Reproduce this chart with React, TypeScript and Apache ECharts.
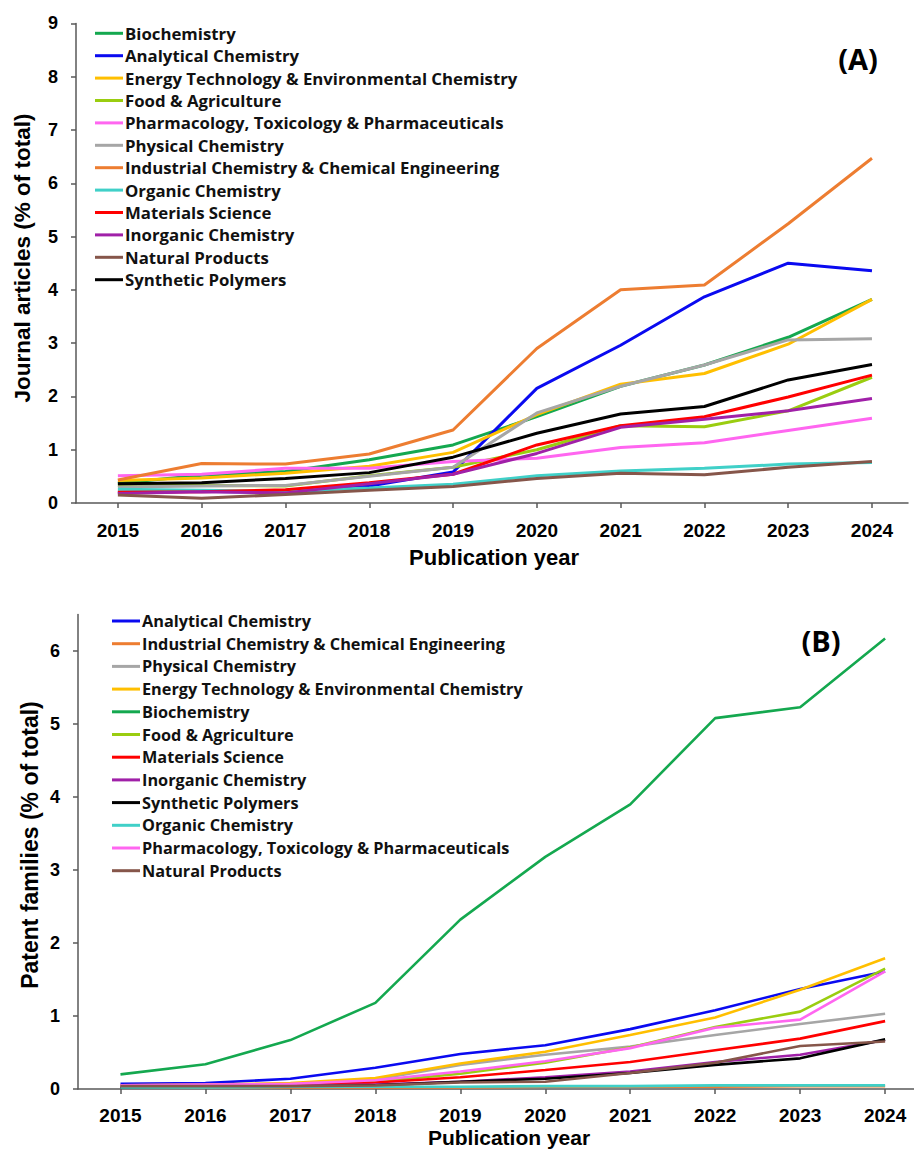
import React, { useEffect, useRef } from "react";
import * as echarts from "echarts";

const years = [2015, 2016, 2017, 2018, 2019, 2020, 2021, 2022, 2023, 2024];
const yTicksA = [0, 1, 2, 3, 4, 5, 6, 7, 8, 9];
const yTicksB = [0, 1, 2, 3, 4, 5, 6];

const colors: Record<string, string> = {
  "Biochemistry": "#14a84f",
  "Analytical Chemistry": "#0a0af0",
  "Energy Technology & Environmental Chemistry": "#ffbf00",
  "Food & Agriculture": "#9acd10",
  "Pharmacology, Toxicology & Pharmaceuticals": "#ff66f0",
  "Physical Chemistry": "#a6a6a6",
  "Industrial Chemistry & Chemical Engineering": "#ed7d31",
  "Organic Chemistry": "#40d0c8",
  "Materials Science": "#ff0000",
  "Inorganic Chemistry": "#a020a8",
  "Natural Products": "#86564a",
  "Synthetic Polymers": "#000000",
};

// Panel A: journal articles (% of total)
const orderA = [
  "Biochemistry",
  "Analytical Chemistry",
  "Energy Technology & Environmental Chemistry",
  "Food & Agriculture",
  "Pharmacology, Toxicology & Pharmaceuticals",
  "Physical Chemistry",
  "Industrial Chemistry & Chemical Engineering",
  "Organic Chemistry",
  "Materials Science",
  "Inorganic Chemistry",
  "Natural Products",
  "Synthetic Polymers",
];
const artBio = [0.37, 0.52, 0.59, 0.81, 1.09, 1.62, 2.19, 2.59, 3.11, 3.82];
const artAnalytical = [0.2, 0.22, 0.19, 0.32, 0.58, 2.15, 2.96, 3.87, 4.5, 4.36];
const artEnergy = [0.42, 0.47, 0.56, 0.69, 0.95, 1.66, 2.23, 2.43, 2.98, 3.82];
const artFood = [0.33, 0.33, 0.32, 0.51, 0.67, 1.0, 1.45, 1.43, 1.73, 2.36];
const artPharma = [0.51, 0.54, 0.65, 0.65, 0.78, 0.84, 1.04, 1.13, 1.36, 1.59];
const artPhysical = [0.3, 0.32, 0.33, 0.5, 0.67, 1.69, 2.19, 2.59, 3.06, 3.08];
const artIndustrial = [0.43, 0.74, 0.73, 0.92, 1.37, 2.9, 4.0, 4.09, 5.24, 6.47];
const artOrganic = [0.26, 0.24, 0.22, 0.28, 0.35, 0.51, 0.6, 0.65, 0.73, 0.76];
const artMaterials = [0.2, 0.21, 0.25, 0.38, 0.54, 1.09, 1.45, 1.62, 1.99, 2.4];
const artInorganic = [0.18, 0.21, 0.19, 0.36, 0.54, 0.93, 1.42, 1.57, 1.73, 1.96];
const artNatural = [0.15, 0.09, 0.16, 0.24, 0.31, 0.46, 0.56, 0.53, 0.67, 0.78];
const artSynthetic = [0.36, 0.38, 0.46, 0.57, 0.86, 1.31, 1.67, 1.81, 2.31, 2.6];

// Panel B: patent families (% of total)
const orderB = [
  "Analytical Chemistry",
  "Industrial Chemistry & Chemical Engineering",
  "Physical Chemistry",
  "Energy Technology & Environmental Chemistry",
  "Biochemistry",
  "Food & Agriculture",
  "Materials Science",
  "Inorganic Chemistry",
  "Synthetic Polymers",
  "Organic Chemistry",
  "Pharmacology, Toxicology & Pharmaceuticals",
  "Natural Products",
];
const patAnalytical = [0.07, 0.08, 0.14, 0.29, 0.48, 0.6, 0.82, 1.08, 1.37, 1.61];
const patIndustrial = [0.02, 0.02, 0.02, 0.02, 0.02, 0.03, 0.03, 0.03, 0.04, 0.04];
const patPhysical = [0.04, 0.05, 0.07, 0.13, 0.33, 0.47, 0.58, 0.74, 0.89, 1.03];
const patEnergy = [0.05, 0.06, 0.08, 0.15, 0.35, 0.51, 0.74, 0.98, 1.36, 1.79];
const patBio = [0.2, 0.34, 0.67, 1.18, 2.32, 3.18, 3.9, 5.08, 5.23, 6.17];
const patFood = [0.03, 0.04, 0.05, 0.1, 0.21, 0.36, 0.57, 0.85, 1.06, 1.65];
const patMaterials = [0.03, 0.04, 0.05, 0.09, 0.16, 0.26, 0.37, 0.53, 0.69, 0.93];
const patInorganic = [0.03, 0.03, 0.04, 0.06, 0.1, 0.16, 0.24, 0.37, 0.47, 0.67];
const patSynthetic = [0.02, 0.03, 0.03, 0.05, 0.1, 0.14, 0.22, 0.33, 0.42, 0.68];
const patOrganic = [0.02, 0.02, 0.03, 0.03, 0.03, 0.04, 0.04, 0.05, 0.05, 0.05];
const patPharma = [0.05, 0.06, 0.07, 0.12, 0.24, 0.38, 0.56, 0.84, 0.95, 1.61];
const patNatural = [0.04, 0.04, 0.04, 0.05, 0.09, 0.1, 0.22, 0.36, 0.59, 0.65];

const articles: Record<string, number[]> = {
  "Biochemistry": artBio,
  "Analytical Chemistry": artAnalytical,
  "Energy Technology & Environmental Chemistry": artEnergy,
  "Food & Agriculture": artFood,
  "Pharmacology, Toxicology & Pharmaceuticals": artPharma,
  "Physical Chemistry": artPhysical,
  "Industrial Chemistry & Chemical Engineering": artIndustrial,
  "Organic Chemistry": artOrganic,
  "Materials Science": artMaterials,
  "Inorganic Chemistry": artInorganic,
  "Natural Products": artNatural,
  "Synthetic Polymers": artSynthetic,
};
const patents: Record<string, number[]> = {
  "Analytical Chemistry": patAnalytical,
  "Industrial Chemistry & Chemical Engineering": patIndustrial,
  "Physical Chemistry": patPhysical,
  "Energy Technology & Environmental Chemistry": patEnergy,
  "Biochemistry": patBio,
  "Food & Agriculture": patFood,
  "Materials Science": patMaterials,
  "Inorganic Chemistry": patInorganic,
  "Synthetic Polymers": patSynthetic,
  "Organic Chemistry": patOrganic,
  "Pharmacology, Toxicology & Pharmaceuticals": patPharma,
  "Natural Products": patNatural,
};

const AXIS_COLOR = "#595959";
const LEGEND_FONT = "Open Sans";
const LABEL_FONT = "Liberation Sans";

export default function App() {
  const ref = useRef<HTMLDivElement>(null);
  useEffect(() => {
    if (!ref.current) return;
    const chart = echarts.init(ref.current, null, { renderer: "svg" });

    const xAxisCommon = (gridIndex: number, max: number, margin: number) => ({
      type: "value",
      gridIndex,
      min: 2014.5,
      max,
      axisLine: { show: true, lineStyle: { color: AXIS_COLOR, width: 1.5 } },
      axisTick: { show: true, length: 5, customValues: years, lineStyle: { color: AXIS_COLOR, width: 1.5 } },
      axisLabel: {
        customValues: years,
        margin,
        color: "#000",
        fontSize: 19,
        fontWeight: "bold",
        fontFamily: LABEL_FONT,
        formatter: (v: number) => String(Math.round(v)),
      },
      splitLine: { show: false },
    });

    const yAxisCommon = (gridIndex: number, max: number, ticks: number[]) => ({
      type: "value",
      gridIndex,
      min: 0,
      max,
      axisLine: { show: true, lineStyle: { color: AXIS_COLOR, width: 1.5 } },
      axisTick: { show: true, length: 5, customValues: ticks, lineStyle: { color: AXIS_COLOR, width: 1.5 } },
      axisLabel: {
        customValues: ticks,
        margin: 18,
        color: "#000",
        fontSize: 18,
        fontWeight: "bold",
        fontFamily: LABEL_FONT,
      },
      splitLine: { show: false },
    });

    const seriesA = orderA.map((name) => ({
      name,
      type: "line",
      xAxisIndex: 0,
      yAxisIndex: 0,
      symbol: "none",
      color: colors[name],
      lineStyle: { color: colors[name], width: 3 },
      data: years.map((y, i) => [y, articles[name][i]]),
    }));
    const seriesB = orderB.map((name) => ({
      name,
      type: "line",
      xAxisIndex: 1,
      yAxisIndex: 1,
      symbol: "none",
      color: colors[name],
      lineStyle: { color: colors[name], width: 2.6 },
      data: years.map((y, i) => [y, patents[name][i]]),
    }));

    const legendCommon = {
      orient: "vertical",
      icon: "rect",
      itemWidth: 28,
      itemHeight: 3,
      itemGap: 4.4,
      padding: 0,
      selectedMode: false,
      textStyle: {
        fontFamily: LEGEND_FONT,
        fontWeight: "bold",
        fontSize: 16.8,
        lineHeight: 18,
        color: "#111",
        padding: [0, 0, 0, -3],
      },
    };

    const title = (text: string, x: number, y: number, size: number, rotate: boolean, font = LABEL_FONT) => ({
      type: "text",
      x,
      y,
      rotation: rotate ? Math.PI / 2 : 0,
      style: {
        text,
        fontFamily: font,
        fontWeight: "bold",
        fontSize: size,
        fill: "#000",
        textAlign: "center",
        textVerticalAlign: "middle",
      },
    });

    chart.setOption({
      animation: false,
      backgroundColor: "#ffffff",
      grid: [
        { left: 76, right: 6, top: 23.4, bottom: 1150 - 503 },
        { left: 78, right: 0, top: 1089 - 6.5 * 73, bottom: 1150 - 1089 },
      ],
      xAxis: [xAxisCommon(0, 2024.43, 18), xAxisCommon(1, 2024.34, 17)],
      yAxis: [yAxisCommon(0, 9, yTicksA), yAxisCommon(1, 6.5, yTicksB)],
      legend: [
        { ...legendCommon, left: 95, top: 24.3, data: orderA },
        {
          ...legendCommon,
          left: 112,
          top: 612,
          itemGap: 4.7,
          data: orderB,
          textStyle: { ...legendCommon.textStyle, fontSize: 16.3 },
        },
      ],
      graphic: [
        title("Journal articles (% of total)", 22, 258, 22.5, true),
        title("Patent families (% of total)", 30, 845, 23, true),
        title("Publication year", 494, 557, 22, false),
        title("Publication year", 509, 1137, 21, false),
        title("(A)", 858, 58, 29, false, LEGEND_FONT),
        title("(B)", 821, 640, 29, false, LEGEND_FONT),
      ],
      series: [...seriesA, ...seriesB],
    });

    return () => chart.dispose();
  }, []);

  return (
    <div
      ref={ref}
      style={{ position: "absolute", left: 0, top: 0, width: 914, height: 1150 }}
    />
  );
}
